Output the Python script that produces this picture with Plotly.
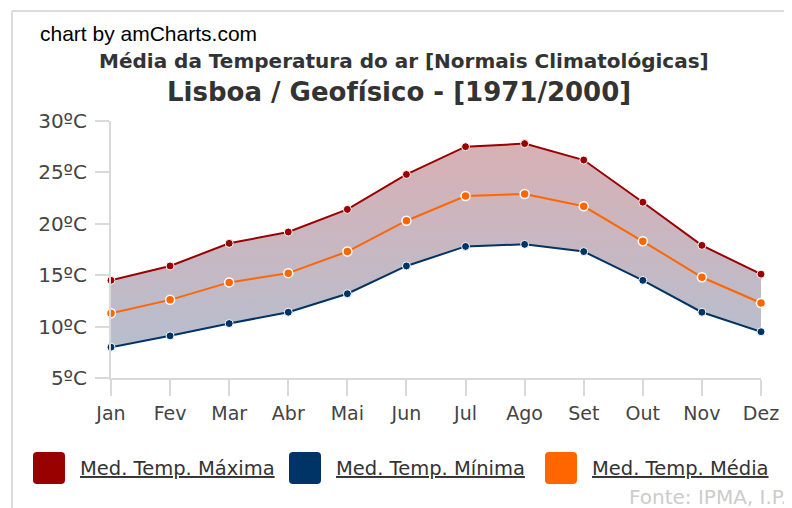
import plotly.graph_objects as go

# ---- data ----
months = ["Jan", "Fev", "Mar", "Abr", "Mai", "Jun", "Jul", "Ago", "Set", "Out", "Nov", "Dez"]
temp_max = [14.5, 15.9, 18.1, 19.2, 21.4, 24.8, 27.5, 27.8, 26.2, 22.1, 17.9, 15.1]
temp_min = [8.0, 9.1, 10.3, 11.4, 13.2, 15.9, 17.8, 18.0, 17.3, 14.5, 11.4, 9.5]
temp_med = [11.3, 12.6, 14.3, 15.2, 17.3, 20.3, 22.7, 22.9, 21.7, 18.3, 14.8, 12.3]
y_ticks = [5, 10, 15, 20, 25, 30]
y_tick_text = [f"{v}ºC" for v in y_ticks]
series_names = ["Med. Temp. Máxima", "Med. Temp. Mínima", "Med. Temp. Média"]
series_colors = ["#990000", "#003366", "#FF6600"]

# page body has an 8px margin: the figure is placed at (8, 8) in the window
OFF = 8
W, H = 792 - OFF, 508 - OFF
L, R, T, B = 111 - OFF, 31, 121 - OFF, 130
PW, PH = W - L - R, H - T - B


def fx(px):  # window pixel x -> paper
    return (px - OFF - L) / PW


def fy(py):  # window pixel y -> paper
    return (H - B - (py - OFF)) / PH


FONT = "DejaVu Sans, Verdana, sans-serif"
xs = list(range(len(months)))

fig = go.Figure()

fig.add_trace(go.Scatter(
    x=xs, y=temp_min, mode="lines+markers", name=series_names[1],
    line=dict(color=series_colors[1], width=2),
    marker=dict(size=8, color=series_colors[1], line=dict(color="white", width=1)),
    cliponaxis=False, showlegend=False,
))
fig.add_trace(go.Scatter(
    x=xs, y=temp_max, mode="lines+markers", name=series_names[0],
    line=dict(color=series_colors[0], width=2),
    marker=dict(size=8, color=series_colors[0], line=dict(color="white", width=1)),
    fill="tonexty",
    fillgradient=dict(type="vertical", start=8, stop=28,
                      colorscale=[[0, "rgb(183,190,206)"], [1, "rgb(216,176,180)"]]),
    cliponaxis=False, showlegend=False,
))
fig.add_trace(go.Scatter(
    x=xs, y=temp_med, mode="lines+markers", name=series_names[2],
    line=dict(color=series_colors[2], width=2),
    marker=dict(size=9, color=series_colors[2], line=dict(color="white", width=1.5)),
    cliponaxis=False, showlegend=False,
))

axis_col = "#d9d9d9"
fig.update_xaxes(
    range=[0, 11], tickvals=xs, ticktext=months,
    showgrid=False, zeroline=False, showline=True, linecolor=axis_col, linewidth=2,
    ticks="outside", ticklen=16, tickwidth=1.5, tickcolor=axis_col,
    tickfont=dict(family=FONT, size=19, color="#444"), ticklabelstandoff=1,
    fixedrange=True,
)
fig.update_yaxes(
    range=[5, 30], tickvals=y_ticks, ticktext=y_tick_text,
    showgrid=False, zeroline=False, showline=True, linecolor=axis_col, linewidth=2,
    ticks="outside", ticklen=14, tickwidth=1.5, tickcolor=axis_col,
    tickfont=dict(family=FONT, size=20, color="#444"), ticklabelstandoff=4,
    fixedrange=True,
)

shapes = [
    dict(type="line", xref="paper", yref="paper", x0=fx(12), x1=fx(800), y0=fy(11), y1=fy(11),
         line=dict(color="#dcdcdc", width=2)),
    dict(type="line", xref="paper", yref="paper", x0=fx(12), x1=fx(12), y0=fy(11), y1=fy(520),
         line=dict(color="#dcdcdc", width=2)),
]


def rounded_rect(x0, y0, x1, y1, r):
    rx = r / PW
    ry = r / PH
    X0, X1 = fx(x0), fx(x1)
    Y0, Y1 = fy(y1), fy(y0)
    return (f"M {X0+rx},{Y0} L {X1-rx},{Y0} Q {X1},{Y0} {X1},{Y0+ry} "
            f"L {X1},{Y1-ry} Q {X1},{Y1} {X1-rx},{Y1} L {X0+rx},{Y1} "
            f"Q {X0},{Y1} {X0},{Y1-ry} L {X0},{Y0+ry} Q {X0},{Y0} {X0+rx},{Y0} Z")


legend_x = [33, 289, 545]
annotations = []
for lx, name, col in zip(legend_x, series_names, series_colors):
    shapes.append(dict(type="path", xref="paper", yref="paper",
                       path=rounded_rect(lx, 452, lx + 32, 484, 4),
                       fillcolor=col, line=dict(width=0)))
    annotations.append(dict(xref="paper", yref="paper", x=fx(lx + 45), y=fy(468),
                            xanchor="left", yanchor="middle", showarrow=False,
                            text=f"<u>{name}</u>",
                            font=dict(family=FONT, size=19.5, color="#333")))

annotations += [
    dict(xref="paper", yref="paper", x=fx(38), y=fy(33), xanchor="left", yanchor="middle",
         showarrow=False, text="chart by amCharts.com",
         font=dict(family="Liberation Sans, Arial, sans-serif", size=21, color="#000")),
    dict(xref="paper", yref="paper", x=fx(404), y=fy(61), xanchor="center", yanchor="middle",
         showarrow=False, text="<b>Média da Temperatura do ar [Normais Climatológicas]</b>",
         font=dict(family=FONT, size=20, color="#333")),
    dict(xref="paper", yref="paper", x=fx(399), y=fy(92), xanchor="center", yanchor="middle",
         showarrow=False, text="<b>Lisboa / Geofísico - [1971/2000]</b>",
         font=dict(family=FONT, size=26, color="#333")),
    dict(xref="paper", yref="paper", x=fx(789), y=fy(497), xanchor="right", yanchor="middle",
         showarrow=False, text="Fonte: IPMA, I.P.",
         font=dict(family=FONT, size=20, color="#cccccc")),
]

fig.update_layout(
    width=W, height=H, autosize=False,
    margin=dict(l=L, r=R, t=T, b=B, pad=0),
    paper_bgcolor="white", plot_bgcolor="white",
    shapes=shapes, annotations=annotations, showlegend=False,
)

fig.write_html("out.html", config={"displayModeBar": False})
